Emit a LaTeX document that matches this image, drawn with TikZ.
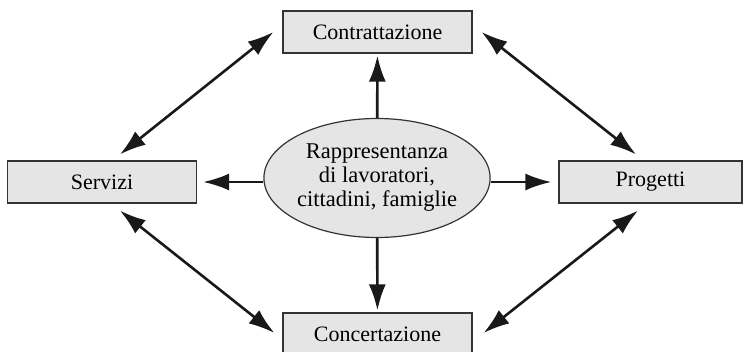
\documentclass[tikz,border=0pt]{standalone}
\usepackage{fontspec}
\setmainfont{Liberation Serif}
\usetikzlibrary{arrows.meta,shapes.geometric}
\definecolor{BoxClr}{rgb}{0.9,0.9,0.9}
\definecolor{EdgeClr}{rgb}{0.2,0.2,0.2}
\definecolor{ArrowClr}{rgb}{0.1,0.1,0.1}
\begin{document}
\begin{tikzpicture}[x=1pt,y=-1pt,
  box/.style={draw=EdgeClr,line width=1.2pt,fill=BoxClr,minimum width=189pt,minimum height=42pt,inner sep=0pt,font=\fontsize{22}{24}\selectfont},
  core/.style={ellipse,draw=EdgeClr,line width=1.2pt,fill=BoxClr,minimum width=209pt,minimum height=119pt,inner sep=0pt,align=center,font=\fontsize{22.5}{24}\selectfont},
  arr/.style={ArrowClr,line width=2.6pt,-{Latex[length=26pt,width=17pt]}},
  dbl/.style={ArrowClr,line width=2.6pt,{Latex[length=26pt,width=17pt]}-{Latex[length=26pt,width=17pt]}}]
\useasboundingbox (0,0) rectangle (744,352);

\node[core] (rep) at (377,178) {Rappresentanza\\di lavoratori,\\cittadini, famiglie};
\node[box] (contr) at (377.5,32) {Contrattazione};
\node[box] (conc) at (377.5,334) {Concertazione};
\node[box] (serv) at (102,182) {Servizi};
\node[box, minimum width=183pt] (prog) at (650.5,182) {Progetti};

\draw[arr,shorten >=2pt] (rep) -- (contr);
\draw[arr,shorten >=2pt] (rep) -- (conc);
\draw[arr,shorten >=6pt] (rep.west |- serv.east) -- (serv.east);
\draw[arr,shorten >=7pt] (rep.east |- prog.west) -- (prog.west);

\draw[dbl] ([xshift=18pt,yshift=6pt]serv.north) -- ([xshift=-9pt]contr.west);
\draw[dbl] ([xshift=9pt]contr.east) -- ([xshift=-14.5pt,yshift=6pt]prog.north);
\draw[dbl] ([xshift=18pt,yshift=-7pt]serv.south) -- ([xshift=-8pt,yshift=1pt]conc.west);
\draw[dbl] ([xshift=-12.5pt,yshift=-7pt]prog.south) -- ([xshift=11pt,yshift=1pt]conc.east);

\end{tikzpicture}
\end{document}
